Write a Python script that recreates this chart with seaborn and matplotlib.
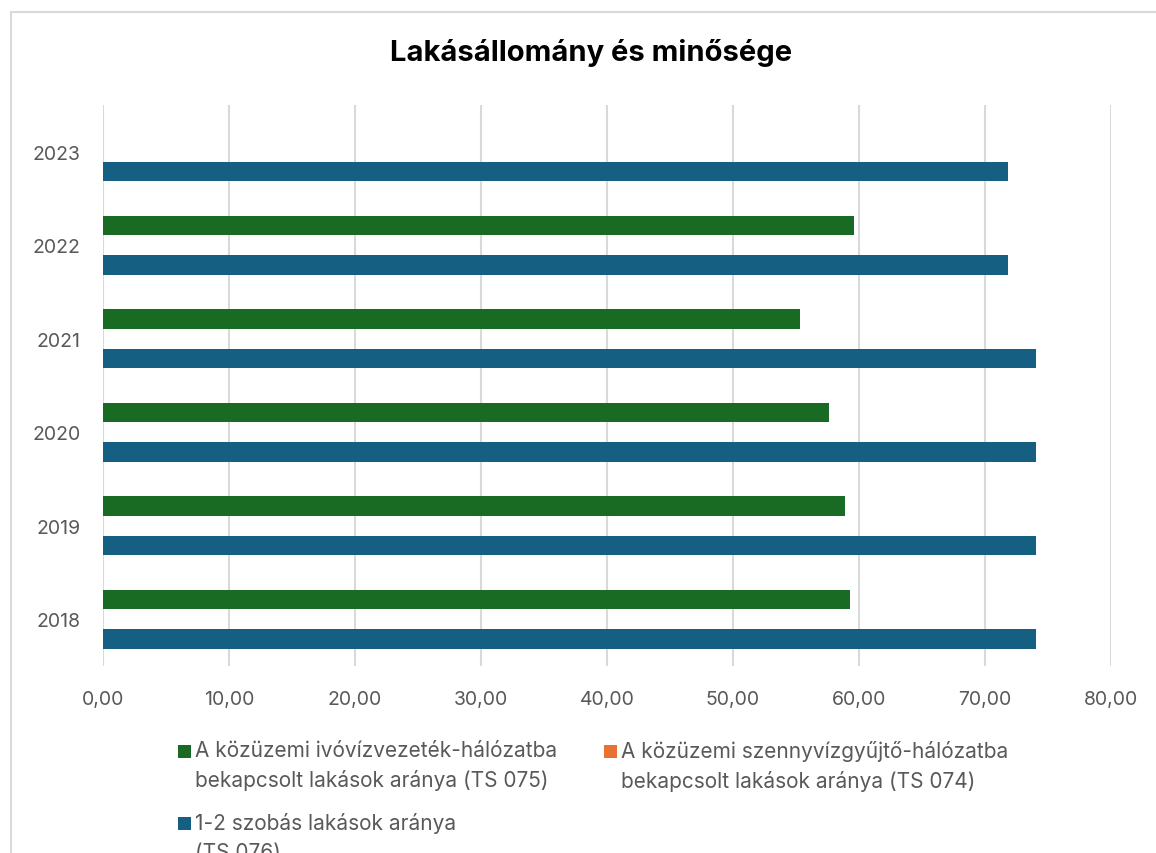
import matplotlib
matplotlib.use("Agg")
import matplotlib.pyplot as plt
import seaborn as sns
import pandas as pd
import numpy as np
from matplotlib.patches import Rectangle
from matplotlib.ticker import FuncFormatter

years = ["2023", "2022", "2021", "2020", "2019", "2018"]
series_names = [
    "A közüzemi ivóvízvezeték-hálózatba\nbekapcsolt lakások aránya (TS 075)",
    "A közüzemi szennyvízgyűjtő-hálózatba\nbekapcsolt lakások aránya (TS 074)",
    "1-2 szobás lakások aránya\n(TS 076)",
]
ts075 = [np.nan, 59.6, 55.3, 57.6, 58.9, 59.3]
ts074 = [np.nan, np.nan, np.nan, np.nan, np.nan, np.nan]
ts076 = [71.85, 71.85, 74.05, 74.05, 74.05, 74.05]
colors = ["#196B24", "#E97132", "#156082"]
title = "Lakásállomány és minősége"
xticks = [0, 10, 20, 30, 40, 50, 60, 70, 80]

rows = []
for name, vals in zip(series_names, [ts075, ts074, ts076]):
    for y, v in zip(years, vals):
        rows.append({"year": y, "series": name, "value": v})
df = pd.DataFrame(rows)

sns.set_theme(style="white")
plt.rcParams["font.family"] = ["Inter", "DejaVu Sans"]

W, H = 1156, 854
fig = plt.figure(figsize=(W / 100, H / 100), dpi=100)
ax = fig.add_axes([103 / W, 1 - 667 / H, (1111 - 103) / W, (667 - 106) / H])

sns.barplot(data=df, y="year", x="value", hue="series", order=years,
            hue_order=series_names, palette=colors, orient="h",
            errorbar=None, width=0.63, linewidth=0, saturation=1,
            ax=ax, legend=False)

ax.set_xlim(0, 80)
ax.set_xticks(xticks)
ax.xaxis.set_major_formatter(FuncFormatter(lambda v, p: f"{v:.2f}".replace(".", ",")))
ax.grid(axis="x", color="#d9d9d9", linewidth=1.5)
ax.set_axisbelow(True)
for s in ax.spines.values():
    s.set_visible(False)
ax.set_xlabel("")
ax.set_ylabel("")
ax.tick_params(axis="x", length=0, pad=17, labelsize=14, labelcolor="#595959")
ax.tick_params(axis="y", length=0, pad=16, labelsize=14, labelcolor="#595959")

fig.text(591 / W, 1 - 53 / H, title, ha="center", va="center",
         fontsize=21, fontweight="bold", color="black")

# chart border
fig.patches.append(Rectangle((11 / W, -0.1), 1.2, 1 - 13 / H + 0.1,
                             transform=fig.transFigure, fill=False,
                             edgecolor="#d9d9d9", linewidth=1.5))

# legend
leg_pos = [(178, 746), (604, 746), (178, 818)]
for (lx, ly), name, c in zip(leg_pos, series_names, colors):
    fig.patches.append(Rectangle((lx / W, 1 - (ly + 13) / H), 13 / W, 13 / H,
                                 transform=fig.transFigure, facecolor=c,
                                 edgecolor="none"))
    fig.text((lx + 17) / W, 1 - (ly - 5) / H, name, ha="left", va="top",
             fontsize=15, color="#595959", linespacing=1.55)

fig.savefig("out.png", dpi=100)
